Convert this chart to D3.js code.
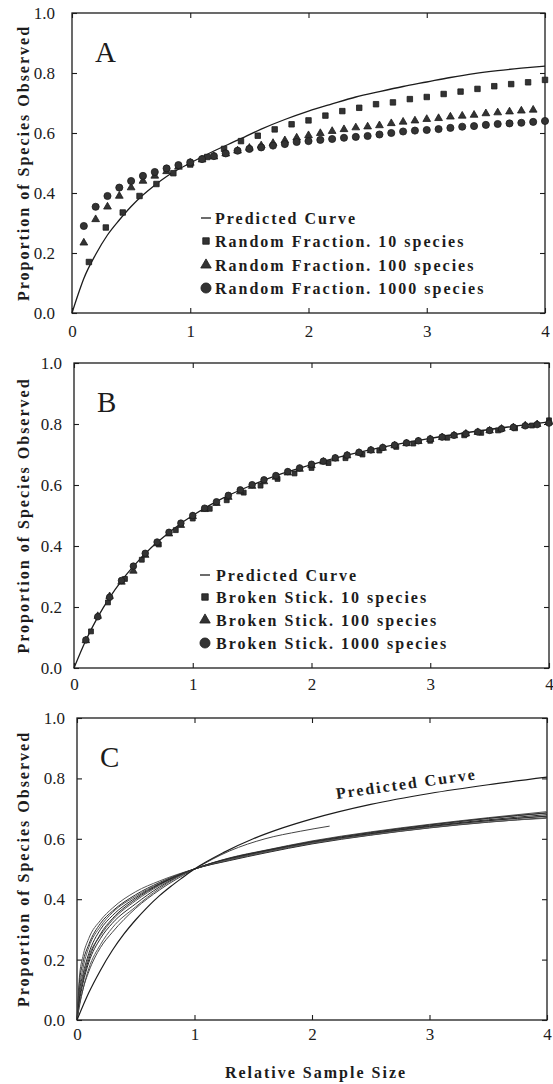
<!DOCTYPE html>
<html>
<head>
<meta charset="utf-8">
<script src="https://cdn.jsdelivr.net/npm/d3@7"></script>
<style>
body { margin: 0; background: #fff; }
svg text { font-family: "Liberation Serif", "Times New Roman", serif; }
</style>
</head>
<body>
<svg id="chart" width="553" height="1084"></svg>
<script>
// ---- data ----
const xTicks = [0, 1, 2, 3, 4];
const yTicks = [0, 0.2, 0.4, 0.6, 0.8, 1.0];

// steps used by the simulations
const step10 = [0.143, 0.286, 0.429, 0.571, 0.714, 0.857, 1.0, 1.143, 1.286, 1.429, 1.571, 1.714, 1.857, 2.0,
    2.143, 2.286, 2.429, 2.571, 2.714, 2.857, 3.0, 3.143, 3.286, 3.429, 3.571, 3.714, 3.857, 4.0];
const step100 = [0.1, 0.2, 0.3, 0.4, 0.5, 0.6, 0.7, 0.8, 0.9, 1.0, 1.1, 1.2, 1.3, 1.4, 1.5, 1.6, 1.7, 1.8, 1.9, 2.0,
    2.1, 2.2, 2.3, 2.4, 2.5, 2.6, 2.7, 2.8, 2.9, 3.0, 3.1, 3.2, 3.3, 3.4, 3.5, 3.6, 3.7, 3.8, 3.9, 4.0];

// panel A : random fraction
const predAx = [0, 0.05, 0.1, 0.2, 0.3, 0.4, 0.5, 0.6, 0.7, 0.8, 0.9, 1.0, 1.2, 1.4, 1.6, 1.8, 2.0, 2.2, 2.4, 2.6, 2.8, 3.0, 3.2, 3.4, 3.6, 3.8, 4.0];
const predAy = [0, 0.06, 0.115, 0.195, 0.26, 0.31, 0.355, 0.393, 0.426, 0.455, 0.479, 0.5, 0.54, 0.576, 0.613, 0.645, 0.673, 0.697, 0.72, 0.738, 0.755, 0.77, 0.785, 0.798, 0.808, 0.816, 0.823];
const randA10 = [0.17, 0.285, 0.335, 0.39, 0.43, 0.466, 0.495, 0.52, 0.547, 0.573, 0.591, 0.612, 0.629, 0.642,
    0.658, 0.673, 0.684, 0.696, 0.702, 0.713, 0.72, 0.73, 0.738, 0.747, 0.756, 0.763, 0.769, 0.777];
const randA100 = [0.234, 0.312, 0.354, 0.39, 0.418, 0.44, 0.457, 0.472, 0.487, 0.5, 0.511, 0.521, 0.531, 0.541, 0.55,
    0.558, 0.566, 0.575, 0.584, 0.592, 0.599, 0.606, 0.612, 0.618, 0.621, 0.625, 0.632, 0.637, 0.641, 0.646,
    0.649, 0.654, 0.657, 0.66, 0.665, 0.668, 0.671, 0.674, 0.677];
const randA1000 = [0.29, 0.354, 0.39, 0.418, 0.44, 0.457, 0.47, 0.482, 0.493, 0.502, 0.513, 0.523, 0.532, 0.541, 0.547,
    0.552, 0.558, 0.563, 0.57, 0.573, 0.577, 0.58, 0.584, 0.587, 0.59, 0.595, 0.6, 0.605, 0.608, 0.61,
    0.613, 0.617, 0.621, 0.623, 0.627, 0.63, 0.632, 0.634, 0.637, 0.64];

// panel B : broken stick
const predBx = [0, 0.1, 0.2, 0.3, 0.4, 0.5, 0.6, 0.7, 0.8, 0.9, 1.0, 1.25, 1.5, 1.75, 2.0, 2.5, 3.0, 3.5, 4.0];
const predBy = [0, 0.091, 0.167, 0.231, 0.286, 0.333, 0.375, 0.412, 0.444, 0.474, 0.5, 0.556, 0.6, 0.637, 0.667, 0.716, 0.753, 0.782, 0.807];
const stickB10 = [0.12, 0.215, 0.292, 0.355, 0.405, 0.452, 0.49, 0.522, 0.55, 0.575, 0.598, 0.62, 0.638, 0.656,
    0.672, 0.688, 0.7, 0.713, 0.725, 0.736, 0.745, 0.755, 0.763, 0.771, 0.779, 0.786, 0.795, 0.812];
const stickB100 = [0.09, 0.17, 0.235, 0.282, 0.318, 0.37, 0.408, 0.44, 0.468, 0.497, 0.52, 0.54, 0.56, 0.578, 0.596,
    0.611, 0.626, 0.64, 0.652, 0.664, 0.676, 0.686, 0.696, 0.705, 0.713, 0.721, 0.729, 0.736, 0.743, 0.75,
    0.756, 0.762, 0.768, 0.773, 0.778, 0.784, 0.789, 0.795, 0.799, 0.806];
const stickB1000 = [0.092, 0.168, 0.232, 0.287, 0.334, 0.376, 0.413, 0.445, 0.475, 0.5, 0.524, 0.545, 0.566, 0.584, 0.601,
    0.617, 0.631, 0.644, 0.656, 0.668, 0.678, 0.689, 0.698, 0.707, 0.715, 0.723, 0.731, 0.738, 0.745, 0.751,
    0.757, 0.763, 0.768, 0.774, 0.779, 0.784, 0.789, 0.794, 0.798, 0.803];

// panel C : field samples
const predCx = [0, 0.1, 0.2, 0.3, 0.4, 0.5, 0.6, 0.7, 0.8, 0.9, 1.0, 1.25, 1.5, 1.75, 2.0, 2.5, 3.0, 3.5, 4.0];
const predCy = [0, 0.09, 0.165, 0.23, 0.285, 0.332, 0.374, 0.411, 0.443, 0.472, 0.5, 0.555, 0.6, 0.636, 0.666, 0.714, 0.75, 0.779, 0.804];
const sampleX = [0, 0.02, 0.05, 0.1, 0.2, 0.3, 0.5, 0.7, 1.0, 1.3, 1.6, 2.0, 2.5, 3.0, 3.5, 4.0];
const samples = [
    [0, 0.14, 0.21, 0.27, 0.33, 0.37, 0.425, 0.46, 0.5, 0.53, 0.555, 0.585, 0.615, 0.64, 0.66, 0.675],
    [0, 0.12, 0.19, 0.25, 0.32, 0.36, 0.415, 0.455, 0.5, 0.532, 0.558, 0.588, 0.618, 0.643, 0.663, 0.68],
    [0, 0.1, 0.17, 0.24, 0.31, 0.355, 0.41, 0.452, 0.5, 0.535, 0.56, 0.59, 0.62, 0.645, 0.667, 0.685],
    [0, 0.09, 0.15, 0.22, 0.3, 0.345, 0.405, 0.45, 0.5, 0.528, 0.553, 0.583, 0.612, 0.636, 0.655, 0.67],
    [0, 0.08, 0.14, 0.21, 0.28, 0.33, 0.395, 0.445, 0.5, 0.537, 0.562, 0.593, 0.623, 0.648, 0.67, 0.69],
    [0, 0.06, 0.12, 0.19, 0.27, 0.32, 0.385, 0.44, 0.5, 0.534, 0.559, 0.588, 0.617, 0.641, 0.66, 0.675],
    [0, 0.05, 0.1, 0.17, 0.25, 0.305, 0.375, 0.435, 0.5, 0.531, 0.556, 0.586, 0.613, 0.637, 0.656, 0.668],
    [0, 0.07, 0.13, 0.2, 0.285, 0.335, 0.4, 0.448, 0.5, 0.536, 0.561, 0.591, 0.621, 0.646, 0.668, 0.686]
];
const shortX = [0, 0.05, 0.1, 0.2, 0.3, 0.5, 0.7, 1.0, 1.3, 1.6, 1.9, 2.15];
const shortY = [0, 0.1, 0.16, 0.24, 0.29, 0.37, 0.43, 0.5, 0.56, 0.6, 0.625, 0.642];

const legendA = ["Predicted Curve", "Random Fraction. 10 species", "Random Fraction. 100 species", "Random Fraction. 1000 species"];
const legendB = ["Predicted Curve", "Broken Stick. 10 species", "Broken Stick. 100 species", "Broken Stick. 1000 species"];

// ---- drawing ----
const ink = "#1c1c1c";
const svg = d3.select("#chart");

const panels = [
    { letter: "A", left: 72, right: 545, top: 13, bottom: 313, yPad: 17, xPad: 12 },
    { letter: "B", left: 74, right: 549, top: 363, bottom: 668, yPad: 12, xPad: 10 },
    { letter: "C", left: 77, right: 547, top: 718, bottom: 1020, yPad: 12, xPad: 8 }
];

function drawFrame(p) {
    const g = svg.append("g").attr("class", "panel-" + p.letter);
    const x = d3.scaleLinear().domain([0, 4]).range([p.left, p.right]);
    const y = d3.scaleLinear().domain([0, 1]).range([p.bottom, p.top]);

    g.append("rect")
        .attr("x", p.left).attr("y", p.top)
        .attr("width", p.right - p.left).attr("height", p.bottom - p.top)
        .attr("fill", "none").attr("stroke", ink).attr("stroke-width", 1.3);

    let axes = [
        g.append("g").attr("transform", "translate(" + p.left + ",0)")
            .call(d3.axisLeft(y).tickValues(yTicks).tickSize(-5).tickPadding(p.yPad).tickFormat(d3.format(".1f"))),
        g.append("g").attr("transform", "translate(" + p.right + ",0)")
            .call(d3.axisRight(y).tickValues(yTicks).tickSize(-5).tickFormat("")),
        g.append("g").attr("transform", "translate(0," + p.bottom + ")")
            .call(d3.axisBottom(x).tickValues(xTicks).tickSize(-5).tickPadding(p.xPad).tickFormat(d3.format("d"))),
        g.append("g").attr("transform", "translate(0," + p.top + ")")
            .call(d3.axisTop(x).tickValues(xTicks).tickSize(-5).tickFormat(""))
    ];
    axes.forEach(a => a.attr("font-family", null).attr("font-size", 17).attr("color", ink));
    g.selectAll(".domain").remove();
    g.selectAll(".tick line").attr("stroke-width", 1.1);

    // panel letter
    g.append("text")
        .attr("x", p.left + 23).attr("y", p.top + 49)
        .attr("font-size", 29).attr("fill", ink)
        .text(p.letter);

    // y title
    g.append("text")
        .attr("transform", "translate(29," + ((p.top + p.bottom) / 2) + ") rotate(-90)")
        .attr("text-anchor", "middle")
        .attr("font-size", 16).attr("font-weight", "bold")
        .attr("letter-spacing", 2).attr("fill", ink)
        .text("Proportion of Species Observed");

    return { g: g, x: x, y: y };
}

function drawPoints(f, xs, ys, type, size) {
    const sym = d3.symbol().type(type).size(size);
    f.g.append("g").selectAll("path")
        .data(ys).enter()
        .append("path")
        .attr("transform", (d, i) => "translate(" + f.x(xs[i]) + "," + f.y(d) + ")")
        .attr("d", sym)
        .attr("fill", "#333").attr("stroke", ink).attr("stroke-width", 0.8);
}

function drawCurve(f, xs, ys, width, color) {
    const line = d3.line()
        .x((d, i) => f.x(xs[i]))
        .y(d => f.y(d))
        .curve(d3.curveMonotoneX);
    f.g.append("path")
        .datum(ys)
        .attr("d", line)
        .attr("fill", "none")
        .attr("stroke", color || ink)
        .attr("stroke-width", width || 1.2);
}

function drawLegend(f, labels, sx, tx, rows) {
    const types = [null, d3.symbolSquare, d3.symbolTriangle, d3.symbolCircle];
    const sizes = [0, 42, 48, 80];
    labels.forEach(function (lab, i) {
        const cy = rows[i];
        if (i === 0) {
            f.g.append("line")
                .attr("x1", sx - 5).attr("x2", sx + 5)
                .attr("y1", cy).attr("y2", cy)
                .attr("stroke", ink).attr("stroke-width", 1.3);
        } else {
            f.g.append("path")
                .attr("transform", "translate(" + sx + "," + cy + ")")
                .attr("d", d3.symbol().type(types[i]).size(sizes[i]))
                .attr("fill", "#333").attr("stroke", ink).attr("stroke-width", 0.8);
        }
        f.g.append("text")
            .attr("x", tx).attr("y", cy).attr("dy", "0.35em")
            .attr("font-size", 16).attr("font-weight", "bold")
            .attr("letter-spacing", 2).attr("fill", ink)
            .text(lab);
    });
}

// A
const fa = drawFrame(panels[0]);
drawCurve(fa, predAx, predAy, 1.3);
drawPoints(fa, step10, randA10, d3.symbolSquare, 30);
drawPoints(fa, step100, randA100, d3.symbolTriangle, 26);
drawPoints(fa, step100, randA1000, d3.symbolCircle, 40);
drawLegend(fa, legendA, 206, 215, [218, 241, 265, 288]);

// B
const fb = drawFrame(panels[1]);
drawCurve(fb, predBx, predBy, 1.3);
drawPoints(fb, step10, stickB10, d3.symbolSquare, 24);
drawPoints(fb, step100, stickB100, d3.symbolTriangle, 24);
drawPoints(fb, step100, stickB1000, d3.symbolCircle, 34);
drawLegend(fb, legendB, 205, 216, [575, 597, 620, 643]);

// C
const fc = drawFrame(panels[2]);
samples.forEach((s, i) => drawCurve(fc, sampleX, s, 1.0, i % 2 ? "#2a2a2a" : "#555"));
drawCurve(fc, shortX, shortY, 1.0, "#444");
drawCurve(fc, predCx, predCy, 1.2);

fc.g.append("text")
    .attr("transform", "translate(407,789) rotate(-8)")
    .attr("text-anchor", "middle")
    .attr("font-size", 16).attr("font-weight", "bold")
    .attr("letter-spacing", 2).attr("fill", ink)
    .text("Predicted Curve");

fc.g.append("text")
    .attr("x", 316).attr("y", 1078)
    .attr("text-anchor", "middle")
    .attr("font-size", 16).attr("font-weight", "bold")
    .attr("letter-spacing", 2).attr("fill", ink)
    .text("Relative Sample Size");
</script>
</body>
</html>
